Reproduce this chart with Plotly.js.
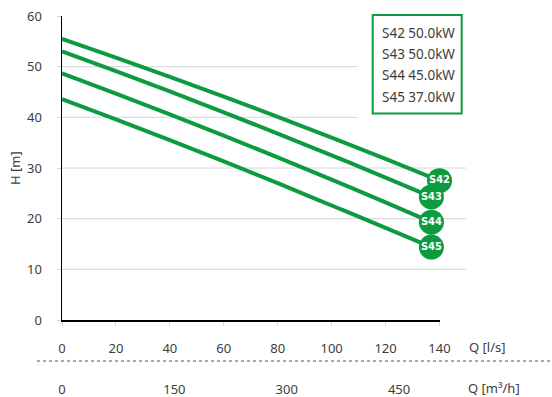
<!DOCTYPE html>
<html>
<head>
<meta charset="utf-8">
<script src="https://cdn.plot.ly/plotly-3.0.1.min.js"></script>
<style>html,body{margin:0;padding:0;background:#fff;}#chart{width:552px;height:397px;}</style>
</head>
<body>
<div id="chart"></div>
<script>
// ---- data ----
const pumpNames = ["S42", "S43", "S44", "S45"];
const pumpPowers = [50.0, 50.0, 45.0, 37.0];
const flowS42 = [0, 20, 40, 60, 80, 100, 120, 140];
const headS42 = [55.5, 51.8, 48.0, 44.1, 40.1, 36.0, 31.8, 27.5];
const flowS43 = [0, 20, 40, 60, 80, 100, 120, 137];
const headS43 = [53.0, 49.1, 45.1, 41.0, 36.8, 32.5, 28.1, 24.3];
const flowS44 = [0, 20, 40, 60, 80, 100, 120, 137];
const headS44 = [48.7, 44.7, 40.6, 36.4, 32.1, 27.7, 23.2, 19.3];
const flowS45 = [0, 20, 40, 60, 80, 100, 120, 137];
const headS45 = [43.6, 39.6, 35.5, 31.3, 27.0, 22.6, 18.2, 14.4];
const flowTicksLs = [0, 20, 40, 60, 80, 100, 120, 140];
const flowTicksM3h = [0, 150, 300, 450];
const headTicks = [0, 10, 20, 30, 40, 50, 60];
const gridTicks = [10, 20, 30, 40, 50];

// ---- layout helpers (pixels -> paper) ----
const W = 552, H = 397;
const mL = 62, mR = 0, mT = 16, mB = 19;
const pw = W - mL - mR, ph = H - mT - mB;
const px = x => (x - mL) / pw;
const py = y => (H - mB - y) / ph;

const green = "#0d9b3f";
const fontFam = "'Noto Sans', 'Open Sans', sans-serif";
const txtCol = "#3d3d3d";

const series = [
  {name: pumpNames[0], x: flowS42, y: headS42},
  {name: pumpNames[1], x: flowS43, y: headS43},
  {name: pumpNames[2], x: flowS44, y: headS44},
  {name: pumpNames[3], x: flowS45, y: headS45}
];

const traces = [];
series.forEach(s => {
  traces.push({
    type: "scatter", mode: "lines", x: s.x, y: s.y,
    line: {color: green, width: 4, shape: "spline", smoothing: 1},
    hoverinfo: "skip", showlegend: false
  });
});
series.forEach(s => {
  traces.push({
    type: "scatter", mode: "markers+text",
    x: [s.x[s.x.length - 1]], y: [s.y[s.y.length - 1]],
    text: ["<b>" + s.name + "</b>"], textposition: "middle center",
    textfont: {family: "'DejaVu Sans Condensed', 'Noto Sans', sans-serif", size: 11, color: "#ffffff"},
    marker: {size: 25, color: green},
    cliponaxis: false, showlegend: false, hoverinfo: "skip"
  });
});
// invisible trace for secondary axis
traces.push({type: "scatter", x: [0, 504], y: [0, 0], xaxis: "x2", yaxis: "y", mode: "markers",
  marker: {opacity: 0}, showlegend: false, hoverinfo: "skip"});

const xDomEnd = px(439.5);
const yDomStart = py(320);

const shapes = [];
gridTicks.forEach(t => {
  shapes.push({type: "line", xref: "paper", yref: "y", x0: 0, x1: px(466), y0: t, y1: t,
    line: {color: "#d6d6d6", width: 1}, layer: "below"});
});
shapes.push({type: "rect", xref: "paper", yref: "paper", x0: px(358), x1: px(468), y0: py(119.5), y1: py(11),
  fillcolor: "#ffffff", line: {width: 0}, layer: "below"});
shapes.push({type: "rect", xref: "paper", yref: "paper", x0: px(372.7), x1: px(461.7), y0: py(113.5), y1: py(15),
  fillcolor: "rgba(0,0,0,0)", line: {color: green, width: 2}, layer: "above"});
shapes.push({type: "line", xref: "paper", yref: "paper", x0: px(37), x1: px(552), y0: py(361), y1: py(361),
  line: {color: "#555555", width: 1, dash: "dot"}});

const annotations = [];
pumpNames.forEach((n, i) => {
  annotations.push({xref: "paper", yref: "paper", x: px(380), y: py(32.7 + i * 21.3),
    xanchor: "left", yanchor: "middle", showarrow: false,
    text: n + " " + pumpPowers[i].toFixed(1) + "kW",
    font: {family: fontFam, size: 13.5, color: txtCol}});
});
annotations.push({xref: "paper", yref: "paper", x: px(467), y: py(347), xanchor: "left", yanchor: "middle",
  showarrow: false, text: "Q [l/s]", font: {family: fontFam, size: 13, color: txtCol}});
annotations.push({xref: "paper", yref: "paper", x: px(466), y: py(388), xanchor: "left", yanchor: "middle",
  showarrow: false, text: "Q [m³/h]", font: {family: fontFam, size: 13, color: txtCol}});
annotations.push({xref: "paper", yref: "paper", x: px(15), y: py(168), xanchor: "center", yanchor: "middle",
  showarrow: false, textangle: -90, text: "H [m]", font: {family: fontFam, size: 13, color: txtCol}});

const layout = {
  width: W, height: H,
  margin: {l: mL, r: mR, t: mT, b: mB, pad: 0},
  paper_bgcolor: "#ffffff", plot_bgcolor: "rgba(0,0,0,0)",
  showlegend: false,
  font: {family: fontFam, size: 13, color: txtCol},
  xaxis: {
    domain: [0, xDomEnd], range: [0, 140], tickvals: flowTicksLs, anchor: "y",
    showline: true, linecolor: "#000000", linewidth: 1.5, showgrid: false, zeroline: false,
    ticks: "outside", ticklen: 4, tickcolor: "#d6d6d6", tickwidth: 1,
    ticklabelstandoff: 12, tickfont: {family: fontFam, size: 13, color: txtCol}
  },
  xaxis2: {
    overlaying: "x", anchor: "free", position: 0, side: "bottom",
    domain: [0, xDomEnd], range: [0, 504], tickvals: flowTicksM3h,
    showline: false, showgrid: false, zeroline: false, ticks: "",
    ticklabelstandoff: 2, tickfont: {family: fontFam, size: 13, color: txtCol}
  },
  yaxis: {
    domain: [yDomStart, 1], range: [0, 60], tickvals: headTicks,
    showline: true, linecolor: "#000000", linewidth: 1.5, showgrid: false, zeroline: false,
    ticks: "outside", ticklen: 4, tickcolor: "#d6d6d6", tickwidth: 1,
    ticklabelstandoff: 12, tickfont: {family: fontFam, size: 13, color: txtCol}
  },
  shapes: shapes,
  annotations: annotations
};

Plotly.newPlot("chart", traces, layout, {staticPlot: true, displayModeBar: false});
</script>
</body>
</html>
